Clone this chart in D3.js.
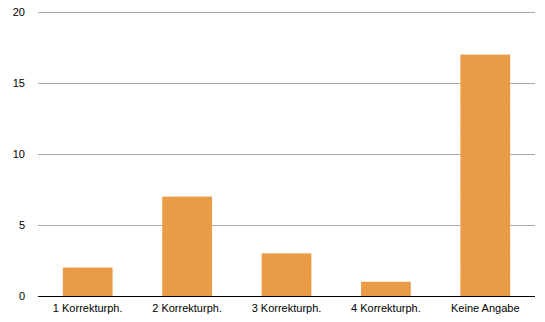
<!DOCTYPE html>
<html>
<head>
<meta charset="utf-8">
<script src="https://cdn.jsdelivr.net/npm/d3@7"></script>
<style>
  body { margin: 0; background: #fff; }
  text { font-family: "Liberation Sans", Arial, sans-serif; font-size: 11px; fill: #000; }
</style>
</head>
<body>
<script>
"use strict";

const categories = ["1 Korrekturph.", "2 Korrekturph.", "3 Korrekturph.", "4 Korrekturph.", "Keine Angabe"];
const counts = [2, 7, 3, 1, 17];
const yTicks = [0, 5, 10, 15, 20];

const m = { width: 545, height: 322, left: 38, right: 10, top: 12, bottom: 26 };

const svg = d3.select("body").append("svg")
    .attr("width", m.width)
    .attr("height", m.height);

// slight grain on the bars, like the original
const filt = svg.append("defs").append("filter").attr("id", "grain");
filt.append("feTurbulence").attr("type", "fractalNoise").attr("baseFrequency", 0.9)
    .attr("numOctaves", 2).attr("result", "noise");
filt.append("feColorMatrix").attr("in", "noise").attr("type", "matrix")
    .attr("values", "0 0 0 0 0.91  0 0 0 0 0.60  0 0 0 0 0.24  0 0 0 0.18 0").attr("result", "tint");
filt.append("feComposite").attr("in", "tint").attr("in2", "SourceGraphic").attr("operator", "in").attr("result", "t2");
filt.append("feMerge").selectAll("feMergeNode").data(["SourceGraphic", "t2"]).enter()
    .append("feMergeNode").attr("in", d => d);

const x = d3.scaleBand()
    .domain(categories)
    .range([m.left, m.width - m.right])
    .paddingInner(0.5)
    .paddingOuter(0.25);

const y = d3.scaleLinear()
    .domain([0, 20])
    .range([m.height - m.bottom, m.top]);

// gridlines
svg.append("g").selectAll("line")
    .data(yTicks.filter(d => d > 0))
    .enter().append("line")
    .attr("x1", m.left).attr("x2", m.width - m.right)
    .attr("y1", d => y(d) + 0.5).attr("y2", d => y(d) + 0.5)
    .attr("stroke", "#a8a8a8").attr("stroke-width", 1);

// y labels
svg.append("g").selectAll("text")
    .data(yTicks)
    .enter().append("text")
    .attr("x", 25).attr("y", d => y(d))
    .attr("dy", "0.35em")
    .attr("text-anchor", "end")
    .text(d => d);

// bars
svg.append("g").selectAll("rect")
    .data(counts)
    .enter().append("rect")
    .attr("x", (d, i) => x(categories[i]))
    .attr("y", d => y(d))
    .attr("width", x.bandwidth())
    .attr("height", d => y(0) - y(d))
    .attr("fill", "#e8963c")
    .attr("filter", "url(#grain)");

// baseline
svg.append("line")
    .attr("x1", m.left).attr("x2", m.width - m.right)
    .attr("y1", y(0) + 0.5).attr("y2", y(0) + 0.5)
    .attr("stroke", "#000").attr("stroke-width", 1);

// category labels
svg.append("g").selectAll("text")
    .data(categories)
    .enter().append("text")
    .attr("x", d => x(d) + x.bandwidth() / 2)
    .attr("y", y(0) + 16)
    .attr("text-anchor", "middle")
    .text(d => d);
</script>
</body>
</html>
